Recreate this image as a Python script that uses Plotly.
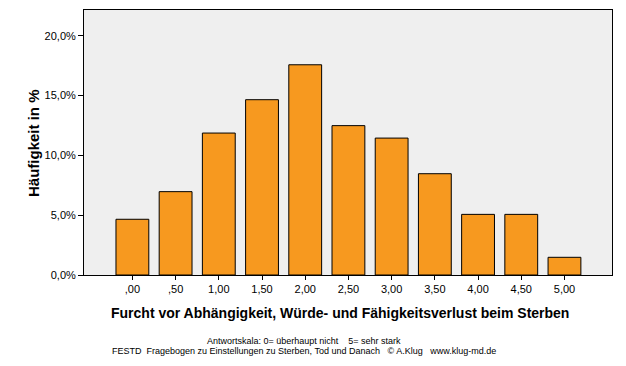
import plotly.graph_objects as go

categories = [",00", ",50", "1,00", "1,50", "2,00", "2,50", "3,00", "3,50", "4,00", "4,50", "5,00"]
percent = [4.66, 6.97, 11.87, 14.66, 17.58, 12.49, 11.45, 8.47, 5.07, 5.07, 1.48]
ytick_vals = [0, 5, 10, 15, 20]
ytick_text = ["0,0%", "5,0%", "10,0%", "15,0%", "20,0%"]

FONT = "Liberation Sans, Arial, sans-serif"
OFF = 8  # page body margin
W, H = 626 - OFF, 366 - OFF
L, R, T, B = 84 - OFF, 612 - OFF, 10 - OFF, 275 - OFF
PW, PH = R - L, B - T

fig = go.Figure()
fig.add_trace(go.Bar(
    x=list(range(len(categories))), y=percent,
    marker=dict(color="#F7991F", line=dict(color="#000000", width=1)),
    width=0.76,
))

def px_x(x):
    return (x - OFF - L) / PW

def px_y(y):
    return (B - (y - OFF)) / PH

fig.update_layout(
    width=W, height=H,
    margin=dict(l=L, r=W - R, t=T, b=H - B, autoexpand=False),
    paper_bgcolor="white", plot_bgcolor="#EFEFEF",
    showlegend=False,
    font=dict(family=FONT, color="#000000", size=11),
    xaxis=dict(
        range=[-1.12, 11.1], tickmode="array", automargin=False,
        tickvals=list(range(len(categories))), ticktext=categories,
        ticks="outside", ticklen=4, tickcolor="#000", showgrid=False, zeroline=False,
        showline=True, linecolor="#000", linewidth=1, mirror=True,
        tickfont=dict(size=11, family=FONT),
    ),
    yaxis=dict(
        range=[0, 22.16], tickmode="array", tickvals=ytick_vals, ticktext=ytick_text,
        automargin=False,
        ticks="outside", ticklen=5, tickcolor="#000", showgrid=False, zeroline=False,
        showline=True, linecolor="#000", linewidth=1, mirror=True,
        tickfont=dict(size=11, family=FONT),
    ),
    annotations=[
        dict(text="<b>Häufigkeit in %</b>", textangle=-90,
             xref="paper", yref="paper", x=px_x(33), y=px_y(143),
             xanchor="center", yanchor="middle", showarrow=False,
             font=dict(size=15, family=FONT)),
        dict(text="<b>Furcht vor Abhängigkeit, Würde- und Fähigkeitsverlust beim Sterben</b>",
             xref="paper", yref="paper", x=px_x(340), y=px_y(313),
             xanchor="center", yanchor="middle", showarrow=False,
             font=dict(size=14, family=FONT)),
        dict(text="Antwortskala: 0= überhaupt nicht    5= sehr stark",
             xref="paper", yref="paper", x=px_x(304), y=px_y(341),
             xanchor="center", yanchor="middle", showarrow=False,
             font=dict(size=9, family=FONT)),
        dict(text="FESTD  Fragebogen zu Einstellungen zu Sterben, Tod und Danach   © A.Klug   www.klug-md.de",
             xref="paper", yref="paper", x=px_x(304), y=px_y(351),
             xanchor="center", yanchor="middle", showarrow=False,
             font=dict(size=9, family=FONT)),
    ],
)

fig.write_html("out.html")
